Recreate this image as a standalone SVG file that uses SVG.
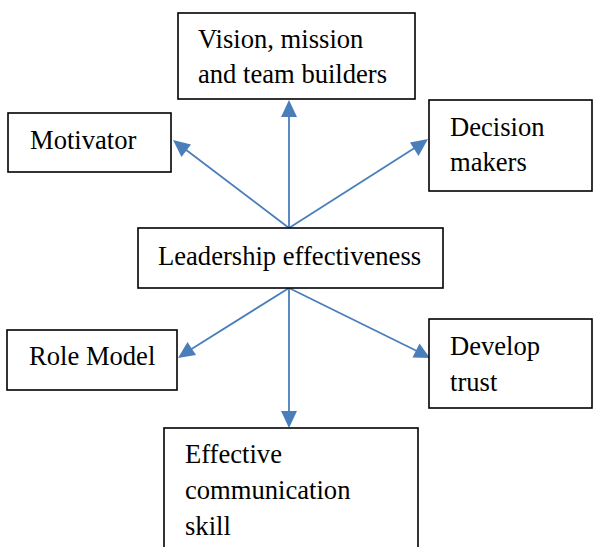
<svg xmlns="http://www.w3.org/2000/svg" width="593" height="547" viewBox="0 0 593 547">
<style>
.box{fill:#fff;stroke:#000;stroke-width:1.6}
.t{font-family:'Liberation Serif','Times New Roman',serif;font-size:26.6px;fill:#000}
.c{stroke:#4a7ebb;stroke-width:1.8;fill:none}
.ah{fill:#4a7ebb}
</style>
<rect width="593" height="547" fill="#fff"/>
<g id="connectors">
<line class="c" x1="289" y1="228" x2="289" y2="105"/>
<line class="c" x1="289" y1="228" x2="177" y2="143"/>
<line class="c" x1="289" y1="228" x2="424" y2="142"/>
<line class="c" x1="289" y1="288" x2="182" y2="355"/>
<line class="c" x1="289" y1="288" x2="425" y2="355"/>
<line class="c" x1="289" y1="288" x2="289" y2="422"/>
<polygon class="ah" points="289,100 281,117 297,117"/>
<polygon class="ah" points="173,140 191,144.5 181.5,157"/>
<polygon class="ah" points="428,139 418.5,156 410,142.5"/>
<polygon class="ah" points="178,358 187.5,342 196,355"/>
<polygon class="ah" points="430,358 412.5,357.5 419.5,343.5"/>
<polygon class="ah" points="289,428 281,411 297,411"/>
</g>
<g id="vision"><rect class="box" x="178" y="13" width="237" height="86"/><text class="t" x="198" y="48">Vision, mission</text><text class="t" x="198" y="83">and team builders</text></g>
<g id="motivator"><rect class="box" x="8" y="113" width="163" height="59"/><text class="t" x="30" y="149">Motivator</text></g>
<g id="decision"><rect class="box" x="429" y="100" width="163" height="91"/><text class="t" x="450" y="136">Decision</text><text class="t" x="450" y="171">makers</text></g>
<g id="leadership"><rect class="box" x="138" y="228" width="305" height="60"/><text class="t" x="158" y="265">Leadership effectiveness</text></g>
<g id="rolemodel"><rect class="box" x="7" y="330" width="170" height="60"/><text class="t" x="29" y="365">Role Model</text></g>
<g id="develop"><rect class="box" x="429" y="319" width="163" height="89"/><text class="t" x="450" y="355">Develop</text><text class="t" x="450" y="391">trust</text></g>
<g id="effective"><rect class="box" x="164" y="428" width="254" height="130"/><text class="t" x="185" y="463">Effective</text><text class="t" x="185" y="499">communication</text><text class="t" x="185" y="535">skill</text></g>
</svg>
